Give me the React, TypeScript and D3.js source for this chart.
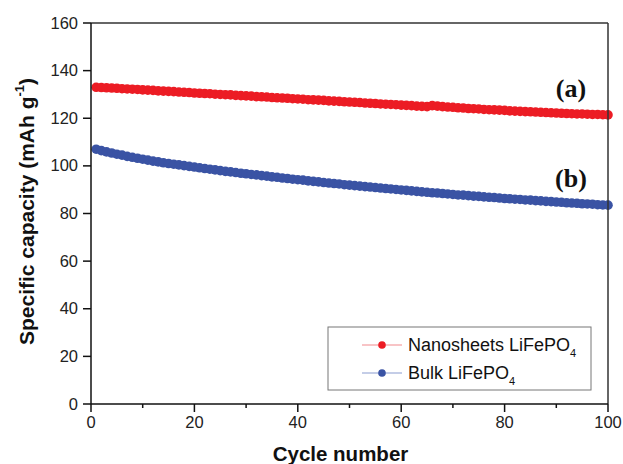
import React from 'react';
import * as d3 from 'd3';

// capacity retention, cycles 1..100
const nanoCapacity = [
  133.0, 132.9, 132.8, 132.7, 132.6, 132.4, 132.3, 132.2, 132.1, 131.9,
  131.8, 131.7, 131.5, 131.4, 131.3, 131.2, 131.0, 130.9, 130.8, 130.6,
  130.5, 130.4, 130.3, 130.1, 130.0, 129.9, 129.8, 129.6, 129.5, 129.4,
  129.3, 129.1, 129.0, 128.9, 128.7, 128.6, 128.5, 128.4, 128.2, 128.1,
  128.0, 127.8, 127.7, 127.6, 127.5, 127.3, 127.2, 127.1, 126.9, 126.8,
  126.7, 126.6, 126.4, 126.3, 126.2, 126.0, 125.9, 125.8, 125.7, 125.5,
  125.4, 125.3, 125.1, 125.0, 124.9, 125.3, 125.1, 124.9, 124.7, 124.6,
  124.4, 124.3, 124.1, 124.0, 123.9, 123.7, 123.6, 123.5, 123.4, 123.3,
  123.1, 123.0, 122.9, 122.8, 122.7, 122.6, 122.5, 122.4, 122.3, 122.2,
  122.1, 122.0, 121.9, 121.8, 121.8, 121.7, 121.6, 121.6, 121.5, 121.4,
];

const bulkCapacity = [
  107.0, 106.4, 105.9, 105.4, 104.9, 104.5, 104.0, 103.6, 103.2, 102.8,
  102.4, 102.0, 101.7, 101.3, 101.0, 100.7, 100.4, 100.1, 99.8, 99.5,
  99.2, 98.9, 98.6, 98.3, 98.0, 97.7, 97.5, 97.2, 96.9, 96.7,
  96.4, 96.2, 95.9, 95.7, 95.4, 95.2, 94.9, 94.7, 94.4, 94.2,
  94.0, 93.7, 93.5, 93.3, 93.0, 92.8, 92.6, 92.4, 92.1, 91.9,
  91.7, 91.5, 91.3, 91.1, 90.9, 90.7, 90.5, 90.3, 90.1, 89.9,
  89.7, 89.5, 89.3, 89.1, 88.9, 88.7, 88.6, 88.4, 88.2, 88.0,
  87.8, 87.7, 87.5, 87.3, 87.2, 87.0, 86.8, 86.7, 86.5, 86.3,
  86.2, 86.0, 85.9, 85.7, 85.6, 85.4, 85.3, 85.1, 85.0, 84.8,
  84.7, 84.5, 84.4, 84.3, 84.1, 84.0, 83.9, 83.7, 83.6, 83.5,
];

const xTicks = [0, 20, 40, 60, 80, 100];
const xMinorTicks = [10, 30, 50, 70, 90];
const yTicks = [0, 20, 40, 60, 80, 100, 120, 140, 160];

const series = [
  { name: 'Nanosheets LiFePO', tag: '(a)', values: nanoCapacity, color: '#ec1c24', light: '#f28a8e' },
  { name: 'Bulk LiFePO', tag: '(b)', values: bulkCapacity, color: '#3a53a4', light: '#8a9bd0' },
];

const W = 623;
const H = 464;
const margin = { top: 23, right: 15, bottom: 60, left: 91 };
const sans = 'Arial, "Liberation Sans", sans-serif';

export default function App() {
  const x = d3.scaleLinear().domain([0, 100]).range([margin.left, W - margin.right]);
  const y = d3.scaleLinear().domain([0, 160]).range([H - margin.bottom, margin.top]);
  const [x0, x1] = x.range();
  const [y0, y1] = y.range();

  const line = d3.line<number>()
    .x((_, i) => x(i + 1))
    .y((d) => y(d));

  return (
    <svg width={W} height={H} style={{ position: 'absolute', left: 0, top: 0, background: '#fff' }}>
      {/* data */}
      {series.map((s) => (
        <g key={s.name}>
          <path d={line(s.values) || ''} fill="none" stroke={s.color} strokeWidth={1} />
          {s.values.map((v, i) => (
            <circle key={i} cx={x(i + 1)} cy={y(v)} r={4.8} fill={s.color} />
          ))}
        </g>
      ))}

      {/* frame */}
      <line x1={x0} x2={x1} y1={y1} y2={y1} stroke="#333" strokeWidth={1.5} />
      <line x1={x1} x2={x1} y1={y1} y2={y0} stroke="#333" strokeWidth={1.5} />

      {/* x axis */}
      <line x1={x0} x2={x1} y1={y0} y2={y0} stroke="#111" strokeWidth={1.5} />
      {xTicks.map((t) => (
        <g key={t}>
          <line x1={x(t)} x2={x(t)} y1={y0} y2={y0 + 8} stroke="#111" strokeWidth={1.5} />
          <text x={x(t)} y={y0 + 24} textAnchor="middle" fontFamily={sans} fontSize={16.5} fill="#222">{t}</text>
        </g>
      ))}
      {xMinorTicks.map((t) => (
        <line key={t} x1={x(t)} x2={x(t)} y1={y0} y2={y0 + 4} stroke="#111" strokeWidth={1.5} />
      ))}
      <text x={(x0 + x1) / 2 - 9} y={461} textAnchor="middle" fontFamily={sans} fontWeight="bold" fontSize={20.5} fill="#111">
        Cycle number
      </text>

      {/* y axis */}
      <line x1={x0} x2={x0} y1={y0} y2={y1} stroke="#111" strokeWidth={1.5} />
      {yTicks.map((t) => (
        <g key={t}>
          <line x1={x0 - 8} x2={x0} y1={y(t)} y2={y(t)} stroke="#111" strokeWidth={1.5} />
          <text x={x0 - 13} y={y(t) + 5.5} textAnchor="end" fontFamily={sans} fontSize={16.5} fill="#222">{t}</text>
        </g>
      ))}
      <text
        transform={`translate(34, ${(y0 + y1) / 2 - 2}) rotate(-90)`}
        textAnchor="middle"
        fontFamily={sans}
        fontWeight="bold"
        fontSize={21}
        fill="#111"
      >
        Specific capacity (mAh g
        <tspan fontSize={13} dy={-10}>-1</tspan>
        <tspan dy={10}>)</tspan>
      </text>

      {/* curve tags */}
      {series.map((s) => (
        <text
          key={s.tag}
          x={571}
          y={y(s.values[s.values.length - 1]) - 18}
          textAnchor="middle"
          fontFamily='"Times New Roman", "Liberation Serif", serif'
          fontWeight="bold"
          fontSize={26}
          fill="#111"
        >
          {s.tag}
        </text>
      ))}

      {/* legend */}
      <rect x={328} y={327} width={263} height={63} fill="#fff" stroke="#777" strokeWidth={1} />
      {series.map((s, i) => (
        <g key={s.name} transform={`translate(0, ${345 + i * 28})`}>
          <line x1={362} x2={402} y1={0} y2={0} stroke={s.light} strokeWidth={1.2} />
          <circle cx={382} cy={0} r={3.8} fill={s.color} />
          <text x={408} y={6} fontFamily={sans} fontSize={18} fill="#111">
            {s.name}
            <tspan fontSize={11} dy={6}>4</tspan>
          </text>
        </g>
      ))}
    </svg>
  );
}
